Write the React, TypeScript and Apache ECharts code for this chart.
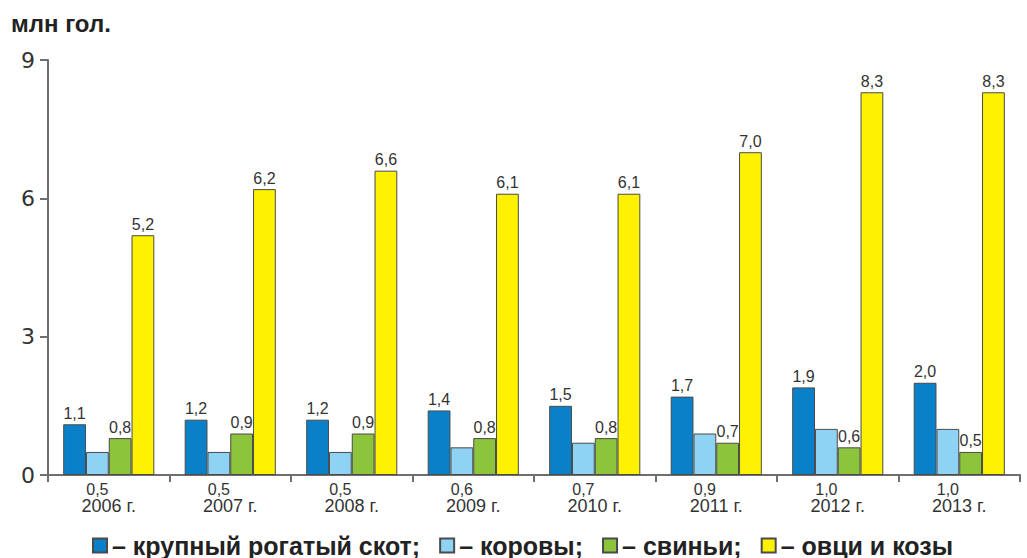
import React, { useEffect, useRef } from "react";
import * as echarts from "echarts";

const categories = ["2006 г.", "2007 г.", "2008 г.", "2009 г.", "2010 г.", "2011 г.", "2012 г.", "2013 г."];
const seriesNames = ["крупный рогатый скот", "коровы", "свиньи", "овци и козы"];
const cattle = [1.1, 1.2, 1.2, 1.4, 1.5, 1.7, 1.9, 2.0];
const cows = [0.5, 0.5, 0.5, 0.6, 0.7, 0.9, 1.0, 1.0];
const pigs = [0.8, 0.9, 0.9, 0.8, 0.8, 0.7, 0.6, 0.5];
const sheep = [5.2, 6.2, 6.6, 6.1, 6.1, 7.0, 8.3, 8.3];
const yTicks = [0, 3, 6, 9];
const unitLabel = "млн гол.";

const colors = ["#0a80c8", "#8fd3f4", "#8cc43c", "#fff200"];
const FONT = "'Liberation Sans', Arial, sans-serif";
const WIDE = "'DejaVu Sans', sans-serif";

const fmt = (v: number) => v.toFixed(1).replace(".", ",");

export default function App() {
  const ref = useRef<HTMLDivElement>(null);
  useEffect(() => {
    if (!ref.current) return;
    const chart = echarts.init(ref.current, undefined, { renderer: "svg" });
    const data = [cattle, cows, pigs, sheep];
    const series = data.map((d, i) => ({
      name: seriesNames[i],
      type: "bar" as const,
      data: d,
      barGap: "0%",
      barCategoryGap: "25%",
      itemStyle: { color: colors[i], borderColor: "#4a4a4a", borderWidth: 1 },
      label: {
        show: true,
        position: i === 1 ? "bottom" : "top",
        distance: i === 1 ? 6 : 3,
        formatter: (p: any) => fmt(p.value),
        fontFamily: FONT,
        fontSize: 16,
        color: "#333",
      },
    }));
    chart.setOption({
      animation: false,
      textStyle: { fontFamily: FONT },
      graphic: [
        {
          type: "text",
          x: 11,
          y: 23,
          style: {
            text: unitLabel,
            fontFamily: FONT,
            fontSize: 24,
            fontWeight: "bold",
            fill: "#222",
            verticalAlign: "middle",
          },
        },
      ],
      legend: {
        top: 533,
        left: 92,
        padding: 0,
        icon: "rect",
        itemWidth: 14,
        itemHeight: 14,
        itemGap: 19,
        textStyle: {
          fontFamily: FONT,
          fontSize: 25,
          lineHeight: 25,
          fontWeight: "bold",
          color: "#222",
        },
        formatter: (name: string) => {
          const i = seriesNames.indexOf(name);
          return "– " + name + (i < seriesNames.length - 1 ? ";" : "");
        },
      },
      grid: { left: 48, right: 7, top: 60, bottom: 83 },
      xAxis: {
        type: "category",
        data: categories,
        axisLine: { lineStyle: { color: "#6e6e6e", width: 2 } },
        axisTick: { show: true, length: 7, lineStyle: { color: "#6e6e6e", width: 2 } },
        axisLabel: { margin: 22, fontSize: 18, color: "#333", fontFamily: FONT },
      },
      yAxis: {
        type: "value",
        min: yTicks[0],
        max: yTicks[yTicks.length - 1],
        interval: 3,
        axisLine: { show: true, lineStyle: { color: "#6e6e6e", width: 2 } },
        axisTick: { show: true, length: 8, lineStyle: { color: "#6e6e6e", width: 2 } },
        splitLine: { show: false },
        axisLabel: { margin: 13, fontSize: 22, color: "#333", fontFamily: WIDE },
      },
      series,
    });
    return () => chart.dispose();
  }, []);
  return (
    <div
      ref={ref}
      style={{ position: "absolute", left: 0, top: 0, width: 1027, height: 558 }}
    />
  );
}
